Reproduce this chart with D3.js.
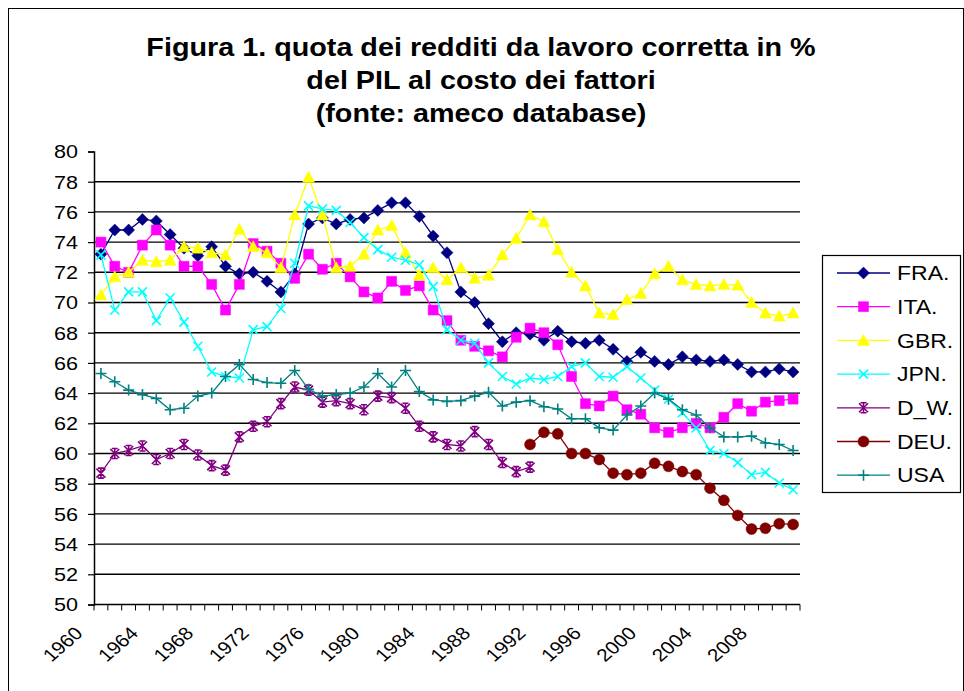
<!DOCTYPE html>
<html>
<head>
<meta charset="utf-8">
<script src="https://cdn.jsdelivr.net/npm/d3@7"></script>
<style>
  html, body { margin: 0; padding: 0; background: #fff; }
  svg { display: block; }
  text { font-family: "Liberation Sans", Arial, sans-serif; fill: #000; }
</style>
</head>
<body>
<svg id="chart" width="964" height="691"></svg>
<script>
const years = [1960,1961,1962,1963,1964,1965,1966,1967,1968,1969,
  1970,1971,1972,1973,1974,1975,1976,1977,1978,1979,
  1980,1981,1982,1983,1984,1985,1986,1987,1988,1989,
  1990,1991,1992,1993,1994,1995,1996,1997,1998,1999,
  2000,2001,2002,2003,2004,2005,2006,2007,2008,2009,2010];
const xTickLabels = [1960,1964,1968,1972,1976,1980,1984,1988,1992,1996,2000,2004,2008];
const yTicks = [50,52,54,56,58,60,62,64,66,68,70,72,74,76,78,80];
const titleLines = ["Figura 1. quota dei redditi da lavoro corretta in %",
                    "del PIL al costo dei fattori",
                    "(fonte: ameco database)"];
const seriesNames = ["FRA.","ITA.","GBR.","JPN.","D_W.","DEU.","USA"];

const FRA = [73.2,74.8,74.8,75.5,75.4,74.5,73.6,73.1,73.7,72.4,
  71.9,72.0,71.4,70.7,71.9,75.2,75.6,75.2,75.5,75.6,
  76.1,76.6,76.6,75.7,74.4,73.3,70.7,70.0,68.6,67.4,
  68.0,67.9,67.5,68.1,67.4,67.3,67.5,66.9,66.1,66.7,
  66.1,65.9,66.4,66.2,66.1,66.2,65.9,65.4,65.4,65.6,65.4];
const ITA = [74.0,72.4,72.0,73.8,74.8,73.8,72.4,72.4,71.2,69.5,
  71.2,73.9,73.4,72.6,71.6,73.2,72.2,72.6,71.7,70.7,
  70.3,71.4,70.8,71.1,69.5,68.8,67.5,67.1,66.8,66.4,
  67.7,68.3,68.0,67.2,65.1,63.3,63.15,63.8,62.9,62.6,
  61.7,61.4,61.7,62.0,61.7,62.4,63.3,62.8,63.4,63.5,63.6];
const GBR = [70.5,71.7,72.0,72.8,72.7,72.8,73.7,73.6,73.3,73.15,
  74.85,73.7,73.3,72.3,75.8,78.3,75.8,72.3,72.4,73.2,
  74.8,75.1,73.3,71.8,72.3,71.5,72.3,71.6,71.8,73.15,
  74.25,75.8,75.35,73.5,72.0,71.1,69.3,69.2,70.2,70.6,
  71.9,72.4,71.5,71.2,71.1,71.2,71.15,70.0,69.3,69.1,69.3];
const JPN = [73.15,69.5,70.7,70.7,68.8,70.3,68.7,67.1,65.4,65.1,
  65.0,68.2,68.4,69.6,72.6,76.4,76.2,76.1,75.3,74.3,
  73.5,73.0,72.8,72.5,71.05,68.2,67.5,67.3,66.0,65.1,
  64.6,65.0,64.9,65.1,65.75,66.0,65.1,65.05,65.75,65.0,
  64.2,63.6,62.7,61.7,60.2,60.0,59.4,58.6,58.75,58.05,57.6];
const D_W = [58.7,60.0,60.2,60.5,59.6,60.0,60.6,59.9,59.2,58.9,
  61.1,61.8,62.1,63.3,64.4,64.2,63.4,63.5,63.3,62.9,
  63.8,63.7,63.0,61.8,61.1,60.6,60.5,61.45,60.6,59.4,
  58.8,59.1,null,null,null,null,null,null,null,null,
  null,null,null,null,null,null,null,null,null,null,null];
const DEU = [null,null,null,null,null,null,null,null,null,null,
  null,null,null,null,null,null,null,null,null,null,
  null,null,null,null,null,null,null,null,null,null,
  null,60.6,61.4,61.3,60.0,60.0,59.6,58.7,58.6,58.7,
  59.35,59.15,58.8,58.6,57.7,56.9,55.9,55.0,55.05,55.35,55.3];
const USA = [65.3,64.75,64.2,63.9,63.65,62.9,63.0,63.8,64.0,65.1,
  65.9,64.9,64.7,64.65,65.5,64.25,63.8,63.9,64.0,64.4,
  65.3,64.4,65.5,64.1,63.55,63.45,63.5,63.8,64.05,63.15,
  63.4,63.5,63.1,62.95,62.3,62.3,61.7,61.55,62.55,63.15,
  64.0,63.6,62.9,62.55,61.7,61.1,61.1,61.15,60.7,60.6,60.2];

const seriesValues = [FRA, ITA, GBR, JPN, D_W, DEU, USA];
const colors = ["#000080","#FF00FF","#FFFF00","#00FFFF","#800080","#800000","#008080"];
const markers = ["diamond","square","triangle","x","star","circle","plus"];

const svg = d3.select("#chart");
const plot = {left: 94, right: 800, top: 151.5, bottom: 604.5};
const SX = 1.15; // horizontal text stretch seen in the reference

// outer frame
svg.append("rect").attr("x", 8.5).attr("y", 8.5).attr("width", 955).attr("height", 700)
  .attr("fill", "#fff").attr("stroke", "#000").attr("stroke-width", 1);

const x = d3.scaleBand().domain(years).range([plot.left, plot.right]).paddingInner(0).paddingOuter(0);
const y = d3.scaleLinear().domain([50, 80]).range([plot.bottom, plot.top]);
const cx = d => x(d) + x.bandwidth() / 2;

// title
titleLines.forEach((t, i) => {
  svg.append("text").attr("transform", `translate(481,${56 + i * 33}) scale(${SX},1)`)
    .attr("text-anchor", "middle").attr("font-size", 25).attr("font-weight", "bold").text(t);
});

// gridlines
svg.append("g").selectAll("line").data(yTicks.filter(v => v > 50 && v < 80)).join("line")
  .attr("x1", plot.left).attr("x2", plot.right)
  .attr("y1", d => y(d)).attr("y2", d => y(d))
  .attr("stroke", "#000").attr("stroke-width", 1.4);

// y axis
const yAxis = d3.axisLeft(y).tickValues(yTicks).tickSize(6).tickFormat(d3.format("d"));
const gy = svg.append("g").attr("transform", `translate(${plot.left},0)`).call(yAxis);
gy.select(".domain").attr("stroke", "#000").attr("stroke-width", 1.5);
gy.selectAll(".tick line").attr("stroke", "#000").attr("stroke-width", 1.2);
gy.selectAll(".tick text").attr("x", null).attr("dy", "0.35em")
  .attr("transform", "translate(-16,0) scale(1.2,1)")
  .attr("font-size", 18).attr("font-family", "Liberation Sans, Arial, sans-serif")
  .attr("fill", "#000").attr("text-anchor", "end");

// x axis (ticks at category boundaries)
const gx = svg.append("g").attr("transform", `translate(0,${plot.bottom})`);
gx.append("line").attr("x1", plot.left).attr("x2", plot.right).attr("y1", 0).attr("y2", 0)
  .attr("stroke", "#000").attr("stroke-width", 1.5);
const boundaries = years.map(d => x(d)).concat([x(years[years.length - 1]) + x.bandwidth()]);
gx.selectAll("line.tk").data(boundaries).join("line").attr("class", "tk")
  .attr("x1", d => d).attr("x2", d => d).attr("y1", 0).attr("y2", 6)
  .attr("stroke", "#000").attr("stroke-width", 1);
svg.append("g").selectAll("text").data(xTickLabels).join("text")
  .attr("transform", d => `translate(${cx(d) - 17},${plot.bottom + 30}) scale(${SX},1) rotate(-45)`)
  .attr("text-anchor", "end").attr("font-size", 18).text(d => d);

// series
const line = d3.line().defined(d => d.v !== null).x(d => cx(d.year)).y(d => y(d.v));

function markerPath(type) {
  switch (type) {
    case "diamond": return "M0,-6L6,0L0,6L-6,0Z";
    case "square": return "M-5,-5H5V5H-5Z";
    case "triangle": return "M0,-6L6,5L-6,5Z";
    case "x": return "M-4.5,-4.5L4.5,4.5M-4.5,4.5L4.5,-4.5";
    case "star": return "M-4.5,-4.5L4.5,4.5M-4.5,4.5L4.5,-4.5M0,-5V5M-3,-5H3M-3,5H3";
    case "circle": return "M5.5,0A5.5,5.5 0 1,1 -5.5,0A5.5,5.5 0 1,1 5.5,0Z";
    case "plus": return "M-5.5,0H5.5M0,-5.5V5.5";
  }
}
function drawMarker(g, type, color) {
  const filled = ["diamond","square","triangle","circle"].includes(type);
  g.append("path").attr("d", markerPath(type))
    .attr("fill", filled ? color : "none")
    .attr("stroke", color).attr("stroke-width", filled ? 0.5 : 1.6);
}

const gs = svg.append("g");
seriesValues.forEach((vals, si) => {
  const data = years.map((yr, i) => ({year: yr, v: vals[i]}));
  const g = gs.append("g");
  g.append("path").datum(data).attr("d", line).attr("fill", "none")
    .attr("stroke", colors[si]).attr("stroke-width", 1.3);
  data.filter(d => d.v !== null).forEach(d => {
    const m = g.append("g").attr("transform", `translate(${cx(d.year)},${y(d.v)})`);
    drawMarker(m, markers[si], colors[si]);
  });
});

// legend
const lg = svg.append("g");
lg.append("rect").attr("x", 822.5).attr("y", 255.5).attr("width", 138).attr("height", 237)
  .attr("fill", "#fff").attr("stroke", "#000").attr("stroke-width", 1.2);
seriesNames.forEach((name, i) => {
  const yy = 273 + i * 33.7;
  const e = lg.append("g").attr("transform", `translate(0,${yy})`);
  e.append("line").attr("x1", 837).attr("x2", 890).attr("y1", 0).attr("y2", 0)
    .attr("stroke", colors[i]).attr("stroke-width", 1.3);
  const m = e.append("g").attr("transform", "translate(863.5,0)");
  drawMarker(m, markers[i], colors[i]);
  e.append("text").attr("transform", `translate(897,0) scale(${SX},1)`)
    .attr("dy", "0.36em").attr("font-size", 20).text(name);
});
</script>
</body>
</html>
